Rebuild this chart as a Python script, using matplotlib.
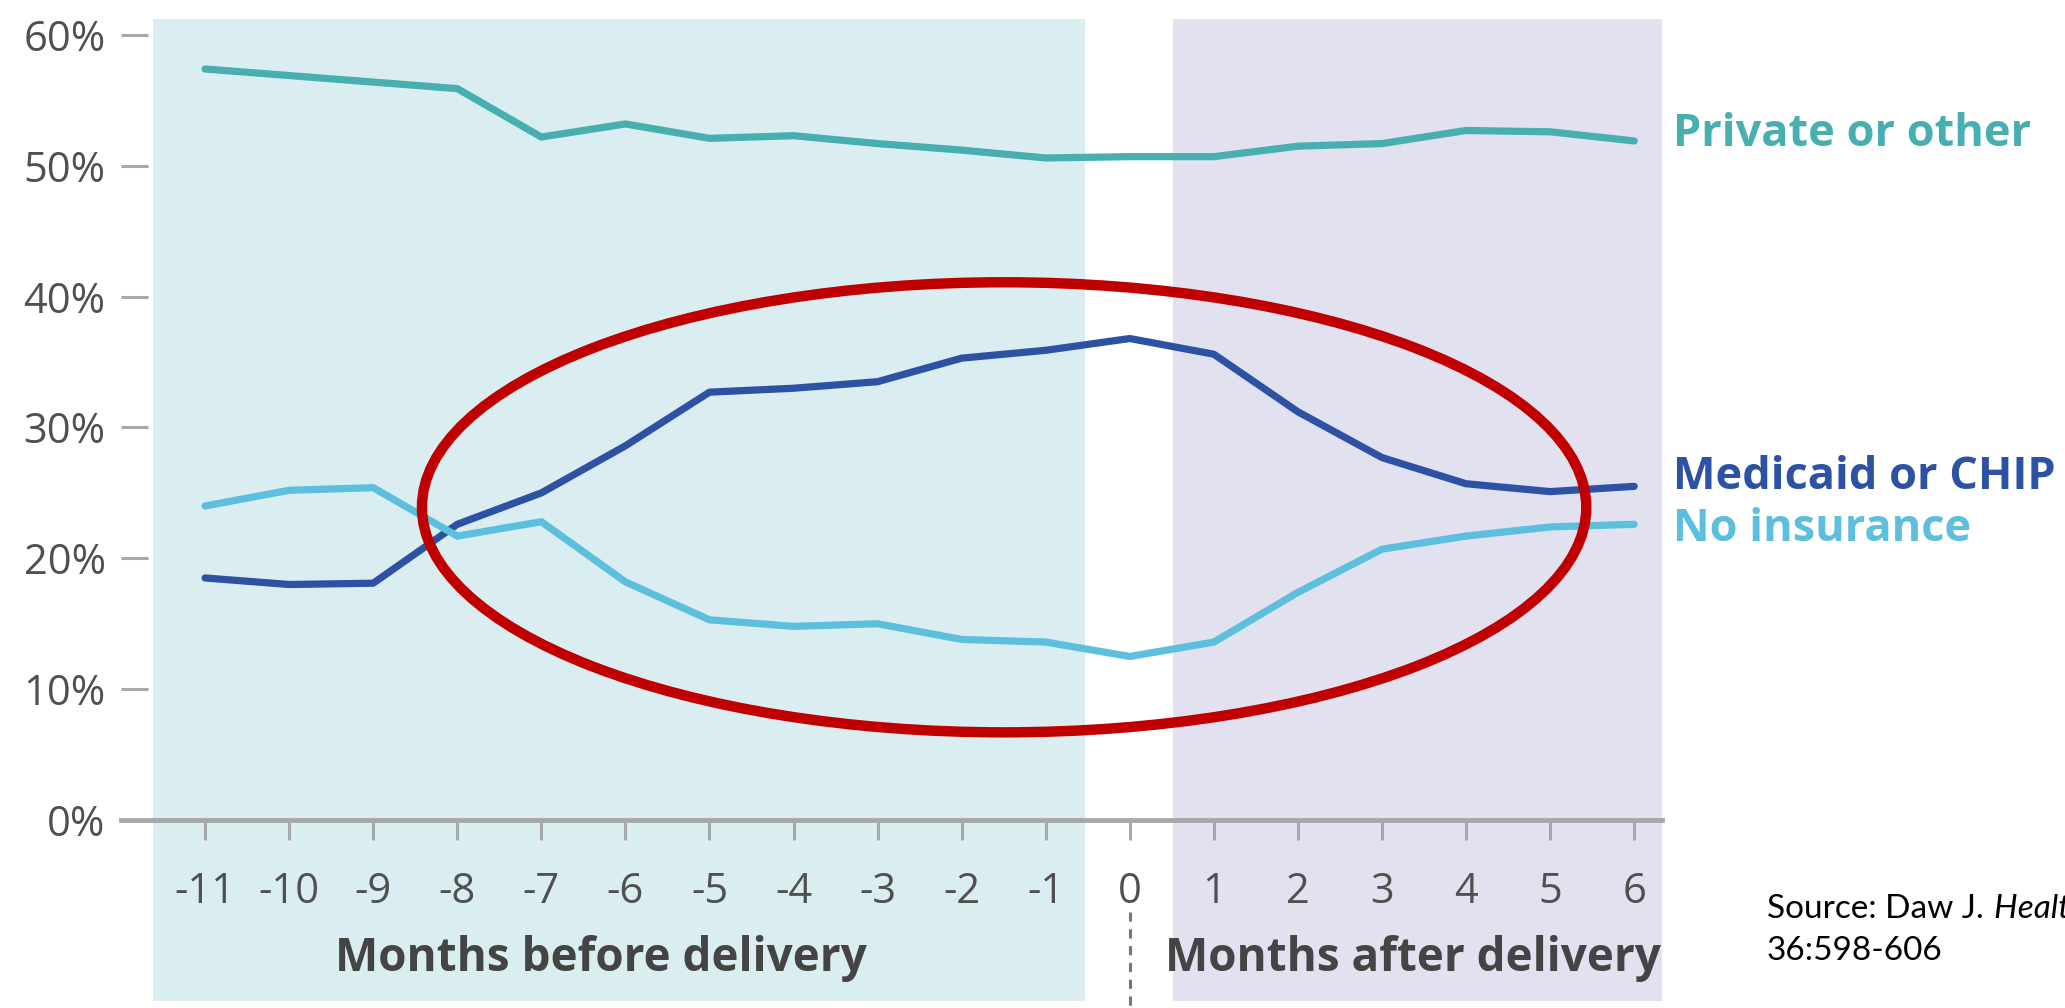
import matplotlib
matplotlib.use("Agg")
import matplotlib.pyplot as plt
from matplotlib.patches import Rectangle, Ellipse

plt.rcParams["font.family"] = ["Open Sans", "DejaVu Sans"]

# months relative to delivery
months = list(range(-11, 7))
private_other = [57.4, 56.9, 56.4, 55.9, 52.2, 53.2, 52.1, 52.3, 51.7, 51.2,
                 50.6, 50.7, 50.7, 51.5, 51.7, 52.7, 52.6, 51.9]
medicaid_chip = [18.5, 18.0, 18.1, 22.6, 25.0, 28.6, 32.7, 33.0, 33.5, 35.3,
                 35.9, 36.8, 35.6, 31.2, 27.7, 25.7, 25.1, 25.5]
no_insurance = [24.0, 25.2, 25.4, 21.7, 22.8, 18.2, 15.3, 14.8, 15.0, 13.8,
                13.6, 12.5, 13.6, 17.4, 20.7, 21.7, 22.4, 22.6]
y_ticks = [0, 10, 20, 30, 40, 50, 60]

C_PRIV = "#47AFB0"
C_MED = "#2D52A3"
C_NONE = "#5BBFDD"
GRAY = "#A8A8A8"
TXT = "#505050"

fig = plt.figure(figsize=(20.65, 10.08), dpi=100)
ax = fig.add_axes([0.0586, 0.1865, 0.7462, 0.7788])
ax.set_xlim(-12.0, 6.33)
ax.set_ylim(0, 60)

# shaded periods
ax.add_patch(Rectangle((-11.62, -13.8), 11.09, 75.05, facecolor="#DAEEF1",
                       edgecolor="none", zorder=0, clip_on=False))
ax.add_patch(Rectangle((0.51, -13.8), 5.82, 75.05, facecolor="#E2E1F0",
                       edgecolor="none", zorder=0, clip_on=False))

for vals, col in [(private_other, C_PRIV), (medicaid_chip, C_MED), (no_insurance, C_NONE)]:
    ax.plot(months, vals, color=col, lw=5.2, solid_capstyle="round", zorder=3)

ax.add_patch(Ellipse((-1.495, 23.9), 13.85, 34.4, facecolor="none",
                     edgecolor="#C00000", lw=7.5, zorder=4))

# dashed marker under month 0
ax.plot([0, 0], [-7.0, -14.5], color="#777777", lw=2.2, ls=(0, (3, 2.5)),
        clip_on=False, zorder=3)

for s in ["top", "right", "left"]:
    ax.spines[s].set_visible(False)
ax.spines["bottom"].set_color(GRAY)
ax.spines["bottom"].set_linewidth(3.5)
ax.spines["bottom"].set_zorder(2.5)

ax.set_xticks(months)
ax.set_xticklabels([str(m) for m in months])
ax.set_yticks(y_ticks)
ax.set_yticklabels([f"{v}%" for v in y_ticks])
ax.tick_params(axis="x", direction="out", length=14.5, width=2.2, color=GRAY,
               pad=22, labelsize=30, labelcolor=TXT)
ax.tick_params(axis="y", direction="in", length=19.4, width=2.2, color=GRAY,
               pad=11, labelsize=30, labelcolor=TXT)

ax.text(-6.29, -10.6, "Months before delivery", ha="center", va="center",
        fontsize=33, fontweight="bold", color="#444444", clip_on=False)
ax.text(3.37, -10.6, "Months after delivery", ha="center", va="center",
        fontsize=33, fontweight="bold", color="#444444", clip_on=False)

ax.text(6.46, 52.4, "Private or other", ha="left", va="center",
        fontsize=32.5, fontweight="bold", color=C_PRIV, clip_on=False)
ax.text(6.46, 26.15, "Medicaid or CHIP", ha="left", va="center",
        fontsize=32.5, fontweight="bold", color=C_MED, clip_on=False)
ax.text(6.46, 22.2, "No insurance", ha="left", va="center",
        fontsize=32.5, fontweight="bold", color=C_NONE, clip_on=False)

# source note, running off the right edge as in the original
src = fig.text(0.8557, 0.0893, "Source: Daw J.", ha="left", va="baseline",
               fontsize=24, color="black", family=["Lato", "DejaVu Sans"])
fig.canvas.draw()
bb = src.get_window_extent()
fig.text(bb.x1 / fig.bbox.width + 0.005, 0.0893, "Health Aff", ha="left",
         va="baseline", fontsize=24, color="black", style="italic",
         family=["Lato", "DejaVu Sans"])
fig.text(0.8557, 0.0476, "36:598-606", ha="left", va="baseline",
         fontsize=24, color="black", family=["Lato", "DejaVu Sans"])

fig.savefig("out.png", dpi=100)
